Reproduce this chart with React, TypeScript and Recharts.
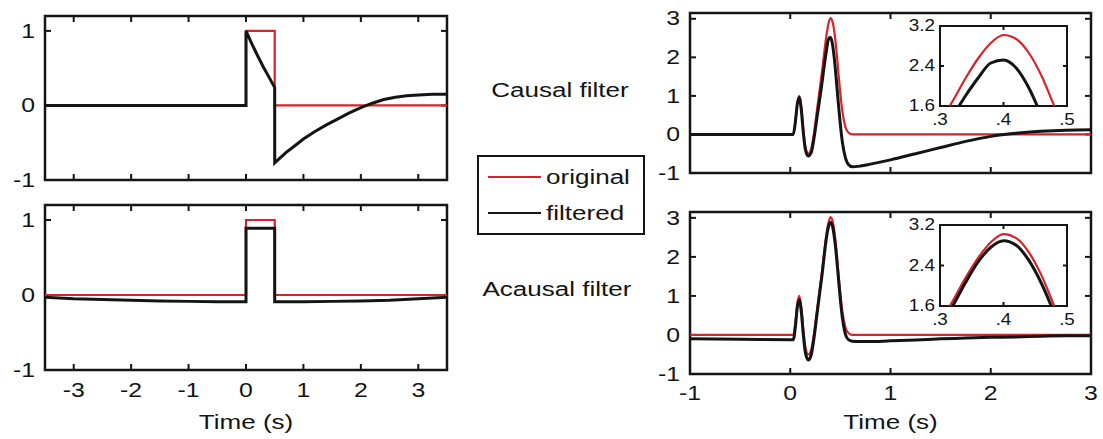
import { LineChart, Line, XAxis, YAxis, Label, ReferenceArea } from "recharts";

const FONT = "'Liberation Sans', Arial, Helvetica, sans-serif";
const INK = "#141414";
const RED = "#d8232a";
const STRETCH = 1.24;
const PAD_RIGHT = 12;

// Left column: rectangular pulse, causal vs acausal high-pass
const pulseTime = [-3.5, 0, 0, 0.5, 0.5, 3.5];
const pulseOriginal = [0, 0, 1, 1, 0, 0];

const pulseCausalTime = [
  -3.5, 0, 0, 0.1, 0.2, 0.3, 0.4, 0.5, 0.5, 0.6, 0.7, 0.8, 0.9, 1.0, 1.2, 1.4,
  1.6, 1.8, 2.0, 2.2, 2.4, 2.6, 2.8, 3.0, 3.25, 3.5,
];
const pulseCausalFiltered = [
  0, 0, 1, 0.83, 0.67, 0.52, 0.38, 0.24, -0.77, -0.7, -0.63, -0.57, -0.51,
  -0.45, -0.35, -0.26, -0.18, -0.1, -0.03, 0.03, 0.08, 0.11, 0.13, 0.14, 0.15,
  0.15,
];

const pulseAcausalTime = [
  -3.5, -3, -2.5, -2, -1.5, -1, -0.5, 0, 0, 0.5, 0.5, 1, 1.5, 2, 2.5, 3, 3.5,
];
const pulseAcausalFiltered = [
  -0.03, -0.05, -0.06, -0.07, -0.08, -0.085, -0.09, -0.09, 0.89, 0.89, -0.09,
  -0.09, -0.085, -0.08, -0.07, -0.05, -0.03,
];

// Right column: spike followed by a large wave
const waveTime = [
  -1, -0.5, 0, 0.03, 0.05, 0.07, 0.09, 0.11, 0.13, 0.15, 0.18, 0.21, 0.24,
  0.27, 0.3, 0.32, 0.34, 0.36, 0.38, 0.4, 0.42, 0.44, 0.46, 0.48, 0.5, 0.52,
  0.55, 0.58, 0.62, 0.7, 0.8, 1.0, 1.25, 1.5, 1.75, 2.0, 2.25, 2.5, 2.75, 3.0,
];
const waveOriginal = [
  0, 0, 0, 0, 0.3, 0.8, 1.0, 0.72, 0.15, -0.3, -0.5, -0.36, 0.1, 0.7, 1.3, 1.7,
  2.15, 2.55, 2.86, 3.02, 2.94, 2.66, 2.2, 1.6, 1.05, 0.6, 0.2, 0.05, 0, 0, 0,
  0, 0, 0, 0, 0, 0, 0, 0, 0,
];
const waveCausalFiltered = [
  0, 0, 0, 0, 0.3, 0.78, 0.96, 0.64, 0.06, -0.38, -0.56, -0.46, -0.05, 0.5,
  1.02, 1.4, 1.8, 2.16, 2.46, 2.52, 2.36, 1.96, 1.4, 0.8, 0.25, -0.2, -0.6,
  -0.78, -0.84, -0.82, -0.77, -0.66, -0.5, -0.34, -0.18, -0.05, 0.03, 0.08,
  0.11, 0.12,
];
const waveAcausalFiltered = [
  -0.1, -0.11, -0.12, -0.12, 0.18, 0.7, 0.9, 0.6, 0.02, -0.44, -0.64, -0.5,
  -0.02, 0.6, 1.2, 1.6, 2.06, 2.47, 2.76, 2.89, 2.8, 2.5, 2.04, 1.46, 0.9,
  0.44, 0.02, -0.12, -0.16, -0.17, -0.17, -0.15, -0.13, -0.1, -0.08, -0.06,
  -0.05, -0.03, -0.02, -0.02,
];

const pulseTicksX = [-3, -2, -1, 0, 1, 2, 3];
const pulseTicksY = [-1, 0, 1];
const waveTicksX = [-1, 0, 1, 2, 3];
const waveTicksY = [-1, 0, 1, 2, 3];
const zoomTicksX = [0.3, 0.4, 0.5];
const zoomTicksY = [1.6, 2.4, 3.2];

type Trace = {
  name: string;
  time: number[];
  values: number[];
  color: string;
  width: number;
  curve: "linear" | "monotone";
};

const toPoints = (time: number[], values: number[]) =>
  time.map((t, i) => ({ t, v: values[i] }));

const original = (time: number[], values: number[], curve: Trace["curve"]): Trace => ({
  name: "original",
  time,
  values,
  color: RED,
  width: 2.2,
  curve,
});
const filtered = (time: number[], values: number[], curve: Trace["curve"]): Trace => ({
  name: "filtered",
  time,
  values,
  color: INK,
  width: 3,
  curve,
});

function Stretched({ x, y, size, anchor = "middle", stretch = STRETCH, children }: any) {
  return (
    <text
      transform={`translate(${x} ${y}) scale(${stretch} 1)`}
      textAnchor={anchor}
      dominantBaseline="central"
      fontSize={size}
      fontFamily={FONT}
      fill={INK}
    >
      {children}
    </text>
  );
}

type PanelProps = {
  left: number;
  top: number;
  width: number;
  height: number;
  xDomain: [number, number];
  yDomain: [number, number];
  xTicks: number[];
  yTicks: number[];
  traces: Trace[];
  axisW: number;
  axisH: number;
  padTop?: number;
  xLabels?: boolean;
  xTitle?: string;
  fontSize?: number;
  stretch?: number;
  tickLen?: number;
  frame?: number;
  labelGap?: number;
  yGap?: number;
  titleGap?: number;
  xFmt?: (v: number) => string;
  yFmt?: (v: number) => string;
};

function Panel({
  left,
  top,
  width,
  height,
  xDomain,
  yDomain,
  xTicks,
  yTicks,
  traces,
  axisW,
  axisH,
  padTop = 4,
  xLabels = false,
  xTitle,
  fontSize = 20,
  stretch = STRETCH,
  tickLen = 6,
  frame = 2.5,
  labelGap = 20,
  yGap = 10,
  titleGap = 50,
  xFmt = (v) => String(v),
  yFmt = (v) => String(v),
}: PanelProps) {
  const [x0, x1] = xDomain;
  const [y0, y1] = yDomain;
  // pixel sizes of the tick marks converted to data units
  const pxX = (x1 - x0) / width;
  const pxY = (y1 - y0) / height;
  const lenX = tickLen * pxX;
  const lenY = tickLen * pxY;

  const bottomLabel = (p: any) =>
    xLabels ? (
      <Stretched x={Number(p.x)} y={Number(p.y) + labelGap} size={fontSize} stretch={stretch}>
        {xFmt(p.payload.value)}
      </Stretched>
    ) : (
      <g />
    );
  const leftLabel = (p: any) => (
    <Stretched
      x={Number(p.x) - yGap}
      y={Number(p.y)}
      size={fontSize}
      stretch={stretch}
      anchor="end"
    >
      {yFmt(p.payload.value)}
    </Stretched>
  );

  const common = {
    type: "number" as const,
    allowDataOverflow: true,
    interval: 0 as const,
    tickSize: 0,
    tickMargin: 0,
    tickLine: false,
    axisLine: false,
  };

  // MATLAB-style inward tick marks on all four sides, as thin filled boxes
  const marks = [
    ...xTicks.flatMap((v) => [
      { x1: v - pxX, x2: v + pxX, y1: y0, y2: y0 + lenY },
      { x1: v - pxX, x2: v + pxX, y1: y1 - lenY, y2: y1 },
    ]),
    ...yTicks.flatMap((v) => [
      { x1: x0, x2: x0 + lenX, y1: v - pxY, y2: v + pxY },
      { x1: x1 - lenX, x2: x1, y1: v - pxY, y2: v + pxY },
    ]),
  ];

  return (
    <div style={{ position: "absolute", left: left - axisW, top: top - padTop }}>
      <LineChart
        width={axisW + width + PAD_RIGHT}
        height={padTop + height + axisH}
        margin={{ top: padTop, right: PAD_RIGHT, bottom: 0, left: 0 }}
      >
        <XAxis
          {...common}
          xAxisId="b"
          dataKey="t"
          domain={xDomain}
          ticks={xTicks}
          height={axisH}
          tick={bottomLabel}
        >
          {xTitle && (
            <Label
              content={({ viewBox }: any) => (
                <Stretched
                  x={viewBox.x + viewBox.width / 2}
                  y={viewBox.y + titleGap}
                  size={fontSize + 1}
                  stretch={stretch}
                >
                  {xTitle}
                </Stretched>
              )}
            />
          )}
        </XAxis>
        <YAxis
          {...common}
          yAxisId="l"
          domain={yDomain}
          ticks={yTicks}
          width={axisW}
          tick={leftLabel}
        />
        {traces.map((s, i) => (
          <Line
            key={i}
            xAxisId="b"
            yAxisId="l"
            data={toPoints(s.time, s.values)}
            dataKey="v"
            name={s.name}
            type={s.curve}
            stroke={s.color}
            strokeWidth={s.width}
            dot={false}
            isAnimationActive={false}
          />
        ))}
        {marks.map((m, i) => (
          <ReferenceArea
            key={`m${i}`}
            xAxisId="b"
            yAxisId="l"
            {...m}
            fill={INK}
            fillOpacity={1}
            stroke="none"
            ifOverflow="visible"
          />
        ))}
        {/* box around the axes */}
        <ReferenceArea
          xAxisId="b"
          yAxisId="l"
          x1={x0}
          x2={x1}
          y1={y0}
          y2={y1}
          fill="none"
          fillOpacity={0}
          stroke={INK}
          strokeWidth={frame}
          ifOverflow="visible"
        />
      </LineChart>
    </div>
  );
}

const fmtFraction = (v: number) => v.toFixed(1).replace(/^0/, "");
const fmtOneDecimal = (v: number) => v.toFixed(1);

const legendItems = [
  { name: "original", color: RED, width: 2 },
  { name: "filtered", color: INK, width: 2 },
];

export default function App() {
  const pulseCausal = [
    original(pulseTime, pulseOriginal, "linear"),
    filtered(pulseCausalTime, pulseCausalFiltered, "linear"),
  ];
  const pulseAcausal = [
    original(pulseTime, pulseOriginal, "linear"),
    filtered(pulseAcausalTime, pulseAcausalFiltered, "linear"),
  ];
  const waveCausal = [
    original(waveTime, waveOriginal, "monotone"),
    filtered(waveTime, waveCausalFiltered, "monotone"),
  ];
  const waveAcausal = [
    original(waveTime, waveOriginal, "monotone"),
    filtered(waveTime, waveAcausalFiltered, "monotone"),
  ];

  const zoomProps = {
    width: 127,
    height: 80,
    left: 940,
    xDomain: [0.3, 0.5] as [number, number],
    yDomain: [1.6, 3.2] as [number, number],
    xTicks: zoomTicksX,
    yTicks: zoomTicksY,
    axisW: 44,
    axisH: 24,
    padTop: 10,
    xLabels: true,
    fontSize: 16,
    stretch: 1.18,
    tickLen: 4,
    frame: 2,
    labelGap: 14,
    yGap: 5,
    xFmt: fmtFraction,
    yFmt: fmtOneDecimal,
  };

  return (
    <div
      style={{
        position: "absolute",
        left: 0,
        top: 0,
        width: 1103,
        height: 439,
        background: "#fff",
        overflow: "hidden",
      }}
    >
      <Panel
        left={45}
        top={16}
        width={402}
        height={164}
        xDomain={[-3.5, 3.5]}
        yDomain={[-1, 1.2]}
        xTicks={pulseTicksX}
        yTicks={pulseTicksY}
        traces={pulseCausal}
        axisW={45}
        axisH={14}
      />
      <Panel
        left={45}
        top={205}
        width={402}
        height={165}
        xDomain={[-3.5, 3.5]}
        yDomain={[-1, 1.2]}
        xTicks={pulseTicksX}
        yTicks={pulseTicksY}
        traces={pulseAcausal}
        axisW={45}
        axisH={66}
        xLabels
        xTitle="Time (s)"
        titleGap={52}
      />
      <Panel
        left={690}
        top={13}
        width={401}
        height={160}
        xDomain={[-1, 3]}
        yDomain={[-1, 3.15]}
        xTicks={waveTicksX}
        yTicks={waveTicksY}
        traces={waveCausal}
        axisW={45}
        axisH={14}
      />
      <Panel
        left={690}
        top={212}
        width={401}
        height={162}
        xDomain={[-1, 3]}
        yDomain={[-1, 3.15]}
        xTicks={waveTicksX}
        yTicks={waveTicksY}
        traces={waveAcausal}
        axisW={45}
        axisH={62}
        xLabels
        xTitle="Time (s)"
        labelGap={19}
        titleGap={48}
      />
      <Panel {...zoomProps} top={26} traces={waveCausal} />
      <Panel {...zoomProps} top={225} height={81} traces={waveAcausal} />

      <svg
        width={1103}
        height={439}
        style={{ position: "absolute", left: 0, top: 0, pointerEvents: "none" }}
      >
        <Stretched x={560} y={90} size={21}>
          Causal filter
        </Stretched>
        <Stretched x={557} y={289} size={21}>
          Acausal filter
        </Stretched>
        <rect x={478} y={156} width={166} height={78} fill="#fff" stroke={INK} strokeWidth={2} />
        {legendItems.map((item, i) => (
          <g key={item.name}>
            <line
              x1={488}
              x2={541}
              y1={177 + i * 36}
              y2={177 + i * 36}
              stroke={item.color}
              strokeWidth={item.width}
            />
            <Stretched x={546} y={177 + i * 36} size={21} anchor="start">
              {item.name}
            </Stretched>
          </g>
        ))}
      </svg>
    </div>
  );
}
